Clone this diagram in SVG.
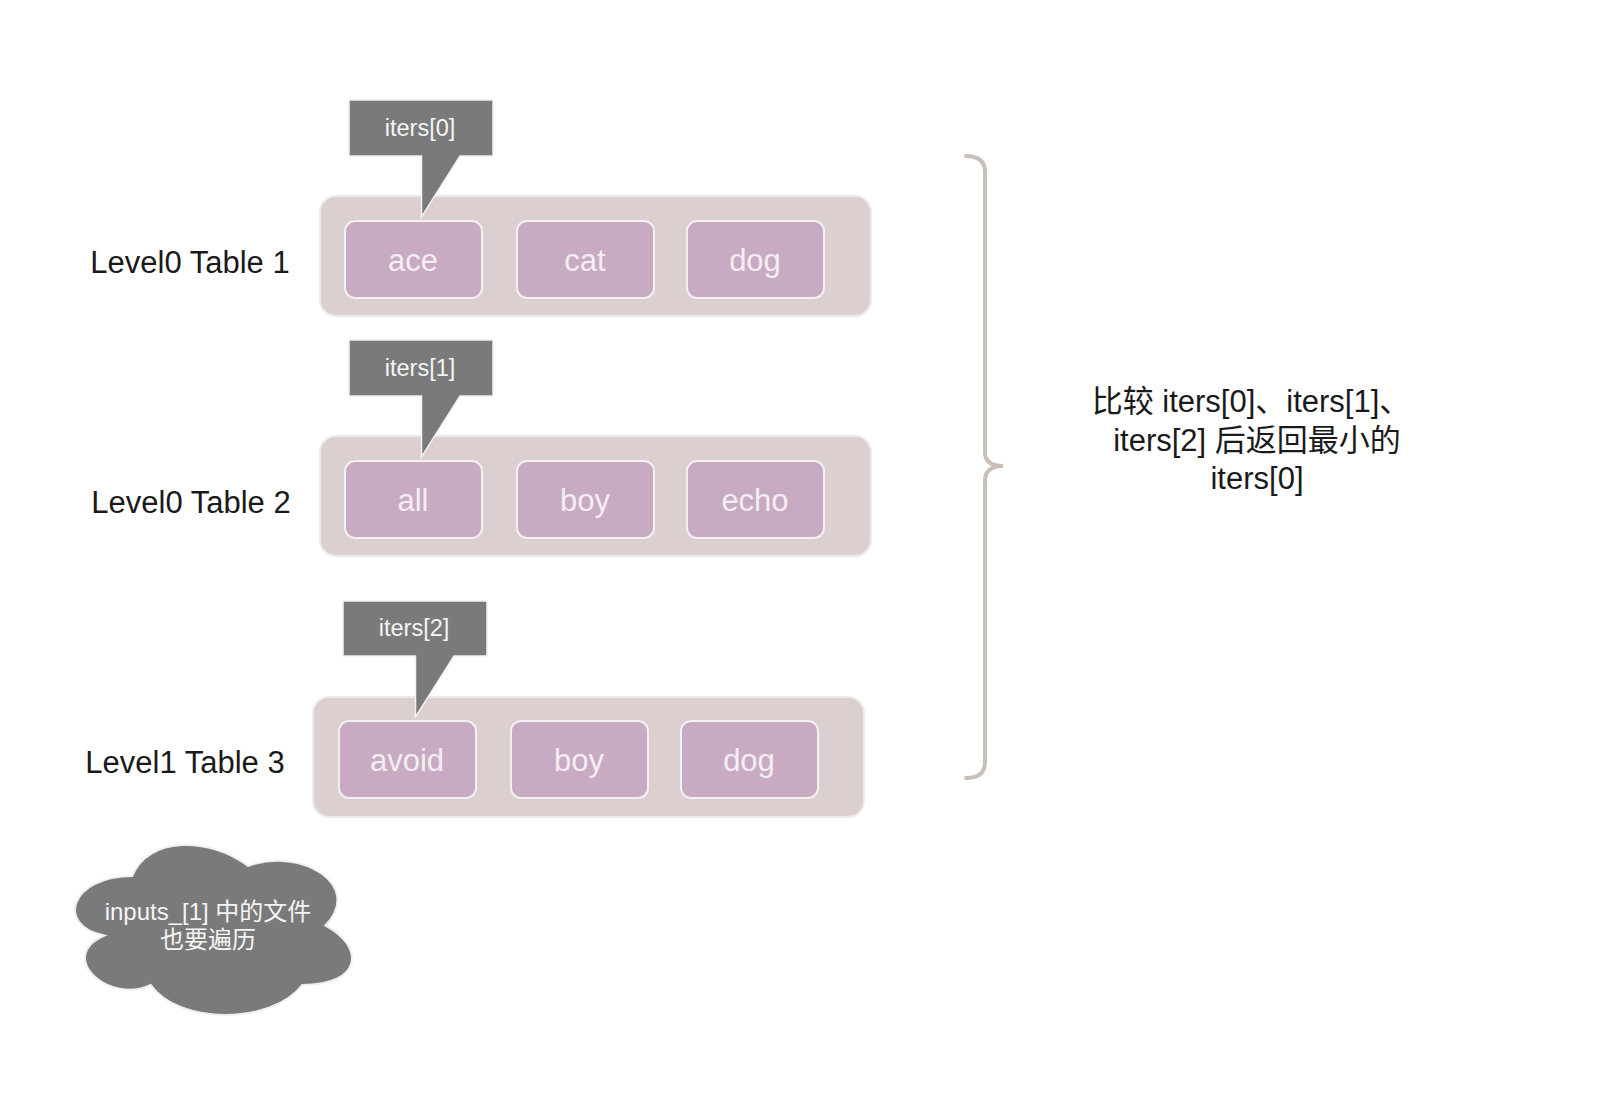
<svg xmlns="http://www.w3.org/2000/svg" width="1616" height="1094" viewBox="0 0 1616 1094">
<style>
.lbl{font-family:"Liberation Sans",Arial,sans-serif;font-size:31px;fill:#1a1a1a;text-anchor:middle;dominant-baseline:central}
.box{fill:#dbcfcf;stroke:#eeeaea;stroke-width:2}
.cell{fill:#c9aac3;stroke:#f3eff2;stroke-width:2}
.ct{font-family:"Liberation Sans",Arial,sans-serif;font-size:31px;fill:#f3eef1;text-anchor:middle;dominant-baseline:central}
.call{fill:#7a7a7a;stroke:#f2f2f2;stroke-width:1.5}
.callt{font-family:"Liberation Sans",Arial,sans-serif;font-size:23.5px;fill:#f5f5f5;text-anchor:middle;dominant-baseline:central}
.cjk{font-family:"Liberation Sans","Noto Sans CJK SC",sans-serif}
</style>
<rect width="1616" height="1094" fill="#ffffff"/>

<g id="table1">
<rect class="box" x="320" y="196" width="551" height="120" rx="16"/>
<g id="t1-ace"><rect class="cell" x="345" y="221" width="137" height="77" rx="10"/><text class="ct" x="413" y="260">ace</text></g>
<g id="t1-cat"><rect class="cell" x="517" y="221" width="137" height="77" rx="10"/><text class="ct" x="585" y="260">cat</text></g>
<g id="t1-dog"><rect class="cell" x="687" y="221" width="137" height="77" rx="10"/><text class="ct" x="755" y="260">dog</text></g>
</g>
<g id="label1"><text class="lbl" x="190" y="262">Level0 Table 1</text></g>

<g id="table2">
<rect class="box" x="320" y="436" width="551" height="120" rx="16"/>
<g id="t2-all"><rect class="cell" x="345" y="461" width="137" height="77" rx="10"/><text class="ct" x="413" y="500">all</text></g>
<g id="t2-boy"><rect class="cell" x="517" y="461" width="137" height="77" rx="10"/><text class="ct" x="585" y="500">boy</text></g>
<g id="t2-echo"><rect class="cell" x="687" y="461" width="137" height="77" rx="10"/><text class="ct" x="755" y="500">echo</text></g>
</g>
<g id="label2"><text class="lbl" x="191" y="502">Level0 Table 2</text></g>

<g id="table3">
<rect class="box" x="313" y="697" width="551" height="120" rx="16"/>
<g id="t3-avoid"><rect class="cell" x="339" y="721" width="137" height="77" rx="10"/><text class="ct" x="407" y="760">avoid</text></g>
<g id="t3-boy"><rect class="cell" x="511" y="721" width="137" height="77" rx="10"/><text class="ct" x="579" y="760">boy</text></g>
<g id="t3-dog"><rect class="cell" x="681" y="721" width="137" height="77" rx="10"/><text class="ct" x="749" y="760">dog</text></g>
</g>
<g id="label3"><text class="lbl" x="185" y="762">Level1 Table 3</text></g>

<g id="callout0">
<path class="call" d="M349,100 H493 V156 H460 L421.5,217 V156 H349 Z"/>
<text class="callt" x="420" y="128">iters[0]</text>
</g>
<g id="callout1">
<path class="call" d="M349,340 H493 V396 H460 L421.5,457 V396 H349 Z"/>
<text class="callt" x="420" y="368">iters[1]</text>
</g>
<g id="callout2">
<path class="call" d="M343,601 H487 V656 H454 L415.5,717 V656 H343 Z"/>
<text class="callt" x="414" y="628">iters[2]</text>
</g>

<g id="connectors">
<path d="M966,156 Q985,156 985,172 L985,452 Q985,466 1003,466 Q985,466 985,481 L985,762 Q985,778 966,778" fill="none" stroke="#c9c1b9" stroke-width="4" stroke-linecap="round"/>
</g>

<g id="summary">
<text class="lbl cjk" x="1251" y="401">比较 iters[0]、iters[1]、</text>
<text class="lbl cjk" x="1257" y="440">iters[2] 后返回最小的</text>
<text class="lbl cjk" x="1257" y="478">iters[0]</text>
</g>

<g id="cloud">
<path d="M132.3,876 C70.5,876 55,925.5 104.4,935.5 C55,957.3 110.6,1005 150.8,985 C178.6,1025 271.3,1025 302.2,985 C364,985 364,945.5 325.4,925.5 C364,885.9 302.2,846.3 248.1,866 C209.5,836.4 147.7,836.4 132.3,876 Z" fill="#7a7a7a" stroke="#f0f0f0" stroke-width="2"/>
<text class="callt cjk" x="208" y="911" style="font-size:24px">inputs_[1] 中的文件</text>
<text class="callt cjk" x="208" y="939" style="font-size:24px">也要遍历</text>
</g>
</svg>
